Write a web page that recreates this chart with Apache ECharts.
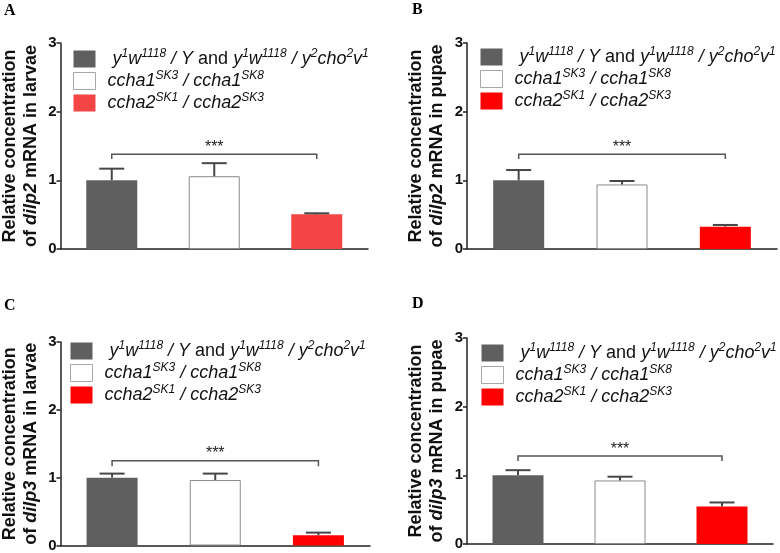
<!DOCTYPE html>
<html>
<head>
<meta charset="utf-8">
<script src="https://cdn.jsdelivr.net/npm/echarts@6/dist/echarts.min.js"></script>
<style>html,body{margin:0;padding:0;background:#fff}#c{width:780px;height:553px}</style>
</head>
<body>
<div id="c"></div>
<script>
// ---- data ----
const categories = ['control', 'ccha1', 'ccha2'];
const yTicks = [0, 1, 2, 3];
const panelLetters = ['A', 'B', 'C', 'D'];
const geneNames = ['dilp2', 'dilp2', 'dilp3', 'dilp3'];
const stageNames = ['larvae', 'pupae', 'larvae', 'pupae'];

const meansA = [1.0, 1.06, 0.505];
const errsA = [0.17, 0.19, 0.015];
const meansB = [1.0, 0.94, 0.325];
const errsB = [0.15, 0.05, 0.025];
const meansC = [1.0, 0.965, 0.15];
const errsC = [0.06, 0.095, 0.04];
const meansD = [1.0, 0.925, 0.545];
const errsD = [0.075, 0.055, 0.06];

const bracketLevels = [1.38, 1.38, 1.25, 1.28];
const bracketDrops = [0.07, 0.07, 0.08, 0.07];
const sigLabels = ['***', '***', '***', '***'];

// ---- styles / layout ----
const meansAll = [meansA, meansB, meansC, meansD];
const errsAll = [errsA, errsB, errsC, errsD];
const grids = [
  {left: 57, top: 43, width: 311, height: 206},
  {left: 467, top: 43, width: 310, height: 206},
  {left: 57, top: 342, width: 313, height: 206},
  {left: 467, top: 338, width: 306, height: 206}
];
const legendPos = [
  {left: 73, top: 48},
  {left: 480, top: 46},
  {left: 70, top: 340},
  {left: 481, top: 342}
];
const letterPos = [[4, 3], [412, 2], [4, 298], [412, 296]];
const redA = '#f44545';
const red = '#ff0000';
const grey = '#5f5f5f';
const FONT = 'Liberation Sans, Arial, sans-serif';

const legendText = {
  control: '{g1|}{i|y}{s|1}{i|w}{s|1118}{i| / Y}{n| and }{i|y}{s|1}{i|w}{s|1118}{i| / y}{s|2}{i|cho}{s|2}{i|v}{s|1}',
  ccha1: '{g2|}{i|ccha1}{s|SK3}{i| / ccha1}{s|SK8}',
  ccha2: '{g2|}{i|ccha2}{s|SK1}{i| / ccha2}{s|SK3}'
};

const option = {
  backgroundColor: '#fff',
  animation: false,
  grid: grids,
  xAxis: grids.map((g, i) => ({
    type: 'category', gridIndex: i, data: categories,
    axisLine: {lineStyle: {color: '#222', width: 1.5}},
    axisTick: {show: false}, axisLabel: {show: false}, splitLine: {show: false}
  })),
  yAxis: grids.map((g, i) => ({
    type: 'value', gridIndex: i, min: 0, max: 3, interval: 1,
    axisLine: {show: true, lineStyle: {color: '#222', width: 1.5}},
    axisTick: {show: true, length: 4, lineStyle: {color: '#222', width: 1.5}},
    axisLabel: {margin: 4, color: '#111', fontWeight: 'bold', fontSize: 15, fontFamily: FONT,
      formatter: v => yTicks.includes(v) ? String(v) : ''},
    splitLine: {show: false},
    name: '{b|Relative concentration}\n{b|of }{bi|' + geneNames[i] + '}{b| mRNA in ' + stageNames[i] + '}',
    nameLocation: 'middle', nameRotate: 90, nameGap: 19,
    nameTextStyle: {
      rich: {
        b: {fontWeight: 'bold', fontSize: 18, fontFamily: FONT, color: '#111', lineHeight: 21},
        bi: {fontWeight: 'bold', fontStyle: 'italic', fontSize: 18, fontFamily: FONT, color: '#111', lineHeight: 21}
      }
    }
  })),
  legend: grids.map((g, i) => ({
    orient: 'vertical', left: legendPos[i].left, top: legendPos[i].top, padding: 0,
    itemWidth: 22, itemHeight: 17, itemGap: 2, selectedMode: false, icon: 'rect',
    data: categories.map((c, k) => k === 1
      ? {name: panelLetters[i] + '_' + c, itemStyle: {color: '#fff', borderColor: '#a8a8a8', borderWidth: 1}}
      : {name: panelLetters[i] + '_' + c}),
    formatter: name => legendText[name.split('_')[1]],
    textStyle: {
      rich: {
        g1: {width: 12, lineHeight: 22},
        g2: {width: 7, lineHeight: 22},
        i: {fontStyle: 'italic', fontSize: 18, fontFamily: FONT, color: '#111', lineHeight: 22},
        n: {fontSize: 18, fontFamily: FONT, color: '#111', lineHeight: 22},
        s: {fontStyle: 'italic', fontSize: 12, fontFamily: FONT, color: '#111', lineHeight: 12, verticalAlign: 'top'}
      }
    }
  })),
  graphic: panelLetters.map((L, i) => ({
    type: 'text', left: letterPos[i][0], top: letterPos[i][1],
    style: {text: L, font: 'bold 16px "Liberation Serif", "Times New Roman", serif', fill: '#000'}
  })),
  series: []
};

grids.forEach((g, i) => {
  const means = meansAll[i];
  const errs = errsAll[i];
  const colors = [grey, '#ffffff', i === 0 ? redA : red];
  categories.forEach((c, k) => {
    option.series.push({
      type: 'bar', name: panelLetters[i] + '_' + c,
      xAxisIndex: i, yAxisIndex: i, stack: 'p' + i, barWidth: 51,
      data: categories.map((cc, j) => j === k ? means[j] : '-'),
      itemStyle: k === 1 ? {color: '#ffffff', borderColor: '#8a8a8a', borderWidth: 1}
                         : {color: colors[k]},
      z: 2
    });
  });
  // error bars
  option.series.push({
    type: 'custom', xAxisIndex: i, yAxisIndex: i, z: 5,
    data: means.map((m, j) => [j, m, errs[j]]),
    renderItem: (params, api) => {
      const x = api.value(0), m = api.value(1), e = api.value(2);
      const base = api.coord([x, m]);
      const top = api.coord([x, m + e]);
      const half = 12.5;
      return {
        type: 'group',
        children: [
          {type: 'line', shape: {x1: base[0], y1: base[1], x2: top[0], y2: top[1]},
           style: {stroke: '#474747', lineWidth: 2}},
          {type: 'line', shape: {x1: top[0] - half, y1: top[1], x2: top[0] + half, y2: top[1]},
           style: {stroke: '#474747', lineWidth: 2}}
        ]
      };
    }
  });
  // significance bracket
  option.series.push({
    type: 'custom', xAxisIndex: i, yAxisIndex: i, z: 5,
    data: [[0, 2, bracketLevels[i], bracketDrops[i]]],
    renderItem: (params, api) => {
      const x0 = api.value(0), x1 = api.value(1), y = api.value(2), d = api.value(3);
      const p0 = api.coord([x0, y]);
      const p1 = api.coord([x1, y]);
      const q0 = api.coord([x0, y - d]);
      return {
        type: 'group',
        children: [
          {type: 'polyline', shape: {points: [[p0[0], q0[1]], p0, p1, [p1[0], q0[1]]]},
           style: {stroke: '#555', lineWidth: 1.5, fill: null}},
          {type: 'text', x: (p0[0] + p1[0]) / 2, y: p0[1] + 1,
           style: {text: sigLabels[i], font: '16px ' + FONT, fill: '#222', align: 'center', verticalAlign: 'bottom'}}
        ]
      };
    }
  });
});

const chart = echarts.init(document.getElementById('c'), null, {renderer: 'canvas'});
chart.setOption(option);
</script>
</body>
</html>
